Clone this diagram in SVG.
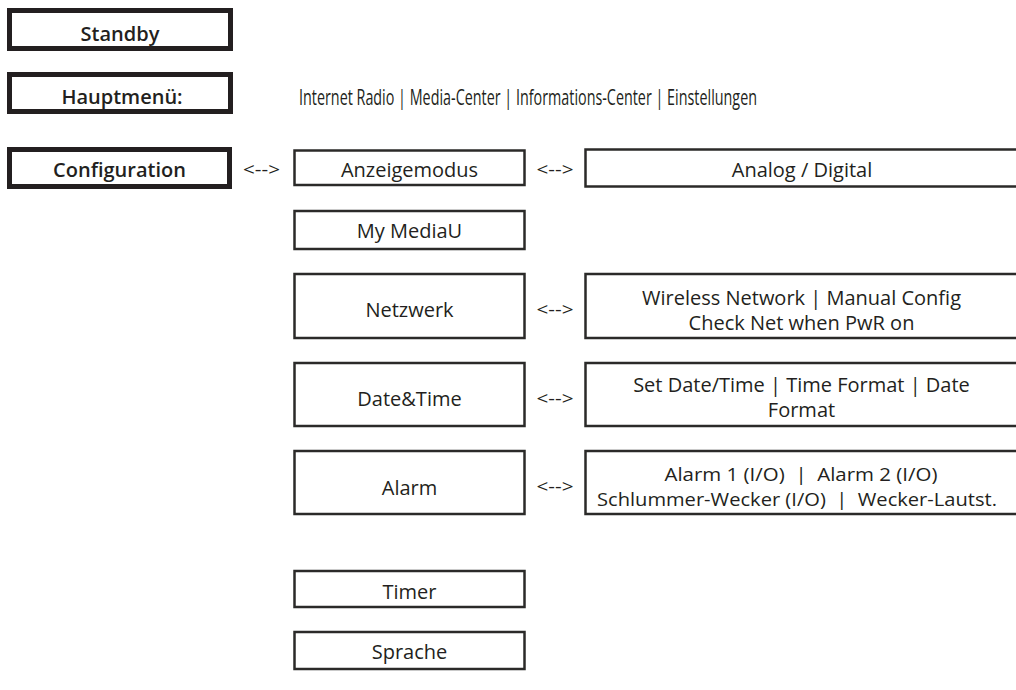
<svg xmlns="http://www.w3.org/2000/svg" width="1016" height="690" viewBox="0 0 1016 690">
<style>
.bg{fill:#ffffff}
.main rect{fill:#ffffff;stroke:#231f20;stroke-width:5}
.sub rect{fill:#ffffff;stroke:#2b2a29;stroke-width:2.5}
text{font-family:"Open Sans","DejaVu Sans",sans-serif;fill:#231f20;text-anchor:middle}
.b{font-size:20px;font-weight:600}
.r{font-size:20px}
.s{font-size:19px}
.h{font-size:21px}
.a{font-size:19px}
</style>
<rect class="bg" width="1016" height="690"/>
<g id="standby" class="main"><rect x="9.5" y="10.5" width="221" height="38"/><text class="b" x="120" y="40.5">Standby</text></g>
<g id="hauptmenue" class="main"><rect x="9.5" y="74.5" width="221" height="37"/><text class="b" x="122" y="104">Hauptmenü:</text></g>
<g id="hauptmenue-items"><text class="h" x="528" y="105" textLength="458" lengthAdjust="spacingAndGlyphs">Internet Radio | Media-Center | Informations-Center | Einstellungen</text></g>
<g id="configuration" class="main"><rect x="9.5" y="149.5" width="220" height="37"/><text class="b" x="119.5" y="177">Configuration</text></g>
<g id="anzeigemodus" class="sub"><rect x="294.5" y="150.5" width="230" height="34.5"/><text class="r" x="409.5" y="177">Anzeigemodus</text></g>
<g id="analog-digital" class="sub"><rect x="585.5" y="149.5" width="440" height="37"/><text class="r" x="802" y="177">Analog / Digital</text></g>
<g id="mymediau" class="sub"><rect x="294.5" y="211" width="230" height="38"/><text class="r" x="409.5" y="238">My MediaU</text></g>
<g id="netzwerk" class="sub"><rect x="294.5" y="274" width="230" height="64"/><text class="r" x="409.5" y="317">Netzwerk</text></g>
<g id="netzwerk-opts" class="sub"><rect x="585.5" y="274" width="440" height="64"/><text class="r" x="801.5" y="305">Wireless Network | Manual Config</text><text class="r" x="801.5" y="330">Check Net when PwR on</text></g>
<g id="datetime" class="sub"><rect x="294.5" y="363" width="230" height="63"/><text class="r" x="409.5" y="406">Date&amp;Time</text></g>
<g id="datetime-opts" class="sub"><rect x="585.5" y="363" width="440" height="63"/><text class="r" x="801.5" y="392">Set Date/Time | Time Format | Date</text><text class="r" x="801.5" y="417">Format</text></g>
<g id="alarm" class="sub"><rect x="294.5" y="451" width="230" height="63"/><text class="r" x="409.5" y="495">Alarm</text></g>
<g id="alarm-opts" class="sub"><rect x="585.5" y="451" width="440" height="63"/><text class="s" x="801" y="481" xml:space="preserve" textLength="273" lengthAdjust="spacingAndGlyphs">Alarm 1 (I/O)  |  Alarm 2 (I/O)</text><text class="s" x="797" y="506" xml:space="preserve" textLength="400" lengthAdjust="spacingAndGlyphs">Schlummer-Wecker (I/O)  |  Wecker-Lautst.</text></g>
<g id="timer" class="sub"><rect x="294.5" y="571" width="230" height="36"/><text class="r" x="409.5" y="599">Timer</text></g>
<g id="sprache" class="sub"><rect x="294.5" y="632" width="230" height="37"/><text class="r" x="409.5" y="659">Sprache</text></g>
<g id="connectors">
<text class="a" x="261.5" y="176" textLength="37" lengthAdjust="spacingAndGlyphs">&lt;--&gt;</text>
<text class="a" x="555" y="176" textLength="37" lengthAdjust="spacingAndGlyphs">&lt;--&gt;</text>
<text class="a" x="555" y="316" textLength="37" lengthAdjust="spacingAndGlyphs">&lt;--&gt;</text>
<text class="a" x="555" y="405" textLength="37" lengthAdjust="spacingAndGlyphs">&lt;--&gt;</text>
<text class="a" x="555" y="493" textLength="37" lengthAdjust="spacingAndGlyphs">&lt;--&gt;</text>
</g>
</svg>
